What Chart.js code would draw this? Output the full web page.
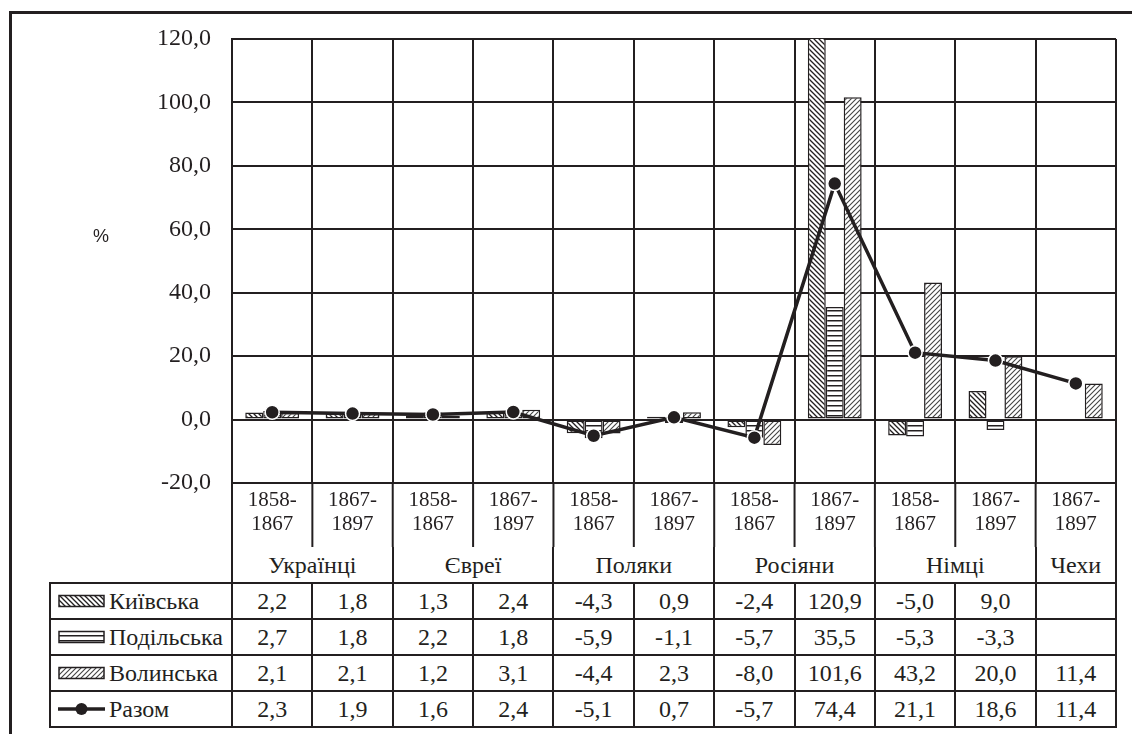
<!DOCTYPE html>
<html>
<head>
<meta charset="utf-8">
<script src="https://cdn.jsdelivr.net/npm/chart.js@4.4.1/dist/chart.umd.min.js"></script>
<style>
  html, body { margin: 0; padding: 0; background: #fff; }
  #wrap { position: relative; width: 1132px; height: 734px; overflow: hidden;
          font-family: "Liberation Serif", "Times New Roman", Times, "DejaVu Serif", serif; color: #231f20; }
  #chart { position: absolute; left: 0; top: 0; }
  #frame { position: absolute; left: 9px; top: 11px; right: 0; bottom: 0;
           border-left: 3px solid #231f20; border-top: 3px solid #231f20; }
  #pct { position: absolute; left: 93px; top: 226px; font: 18px "Liberation Sans", Arial, sans-serif; }
  .cell { position: absolute; box-sizing: border-box; border: 2px solid #231f20; background: #fff;
          display: flex; align-items: center; justify-content: center; font-size: 24px; line-height: 1; }
  .cell.legend { justify-content: flex-start; padding-left: 7px; }
  .cell.legend canvas { margin-right: 4px; }
</style>
</head>
<body>
<div id="wrap">
  <canvas id="chart" width="1132" height="734"></canvas>
  <div id="frame"></div>
  <div id="pct">%</div>
  <div id="table"></div>
</div>
<script>
// ---- data ----
const periods = ['1858-1867', '1867-1897', '1858-1867', '1867-1897', '1858-1867', '1867-1897',
                 '1858-1867', '1867-1897', '1858-1867', '1867-1897', '1867-1897'];
const groups = ['Українці', 'Євреї', 'Поляки', 'Росіяни', 'Німці', 'Чехи'];
const groupSizes = [2, 2, 2, 2, 2, 1];

const kyiv     = [2.2, 1.8, 1.3, 2.4, -4.3, 0.9, -2.4, 120.9, -5.0, 9.0, null];
const podillia = [2.7, 1.8, 2.2, 1.8, -5.9, -1.1, -5.7, 35.5, -5.3, -3.3, null];
const volyn    = [2.1, 2.1, 1.2, 3.1, -4.4, 2.3, -8.0, 101.6, 43.2, 20.0, 11.4];
const total    = [2.3, 1.9, 1.6, 2.4, -5.1, 0.7, -5.7, 74.4, 21.1, 18.6, 11.4];

const seriesNames = ['Київська', 'Подільська', 'Волинська', 'Разом'];
const yTicks = [-20, 0, 20, 40, 60, 80, 100, 120];

const ink = '#231f20';
const serif = '"Liberation Serif", "Times New Roman", Times, "DejaVu Serif", serif';
const fmt = v => v == null ? '' : v.toFixed(1).replace('.', ',');

// hatch fills like the old Excel patterns
function makePattern(kind) {
  const s = 5;
  const t = document.createElement('canvas');
  t.width = s; t.height = s;
  const g = t.getContext('2d');
  g.fillStyle = '#fff';
  g.fillRect(0, 0, s, s);
  if (kind === 'horiz') {
    g.fillStyle = ink;
    g.fillRect(0, 0, s, 1.5);
  } else {
    g.strokeStyle = kind === 'back' ? ink : '#444';
    g.lineWidth = kind === 'back' ? 1.3 : 1.1;
    g.beginPath();
    if (kind === 'back') {
      g.moveTo(-1, -1); g.lineTo(s + 1, s + 1);
      g.moveTo(-1, s - 1); g.lineTo(1, s + 1);
      g.moveTo(s - 1, -1); g.lineTo(s + 1, 1);
    } else {
      g.moveTo(-1, s + 1); g.lineTo(s + 1, -1);
      g.moveTo(-1, 1); g.lineTo(1, -1);
      g.moveTo(s - 1, s + 1); g.lineTo(s + 1, s - 1);
    }
    g.stroke();
  }
  return g.createPattern(t, 'repeat');
}
const fills = [makePattern('back'), makePattern('horiz'), makePattern('fwd')];

// separators under the plot for the period labels
const lowerLines = {
  id: 'lowerLines',
  afterDraw(c) {
    const x = c.scales.x, a = c.chartArea, ctx = c.ctx;
    const step = x.getPixelForValue(1) - x.getPixelForValue(0);
    ctx.save();
    ctx.strokeStyle = ink;
    ctx.lineWidth = 2;
    for (let k = 0; k <= periods.length; k++) {
      const px = x.getPixelForValue(0) - step / 2 + k * step;
      ctx.beginPath();
      ctx.moveTo(px, a.bottom);
      ctx.lineTo(px, a.bottom + 64);
      ctx.stroke();
    }
    ctx.restore();
  }
};

const barStyle = { borderColor: ink, borderWidth: 1.5, borderSkipped: false, order: 1 };

const chart = new Chart(document.getElementById('chart'), {
  type: 'bar',
  data: {
    labels: periods.map(p => [p.slice(0, 5), p.slice(5)]),
    datasets: [
      { label: seriesNames[0], data: kyiv, backgroundColor: fills[0], ...barStyle },
      { label: seriesNames[1], data: podillia, backgroundColor: fills[1], ...barStyle },
      { label: seriesNames[2], data: volyn, backgroundColor: fills[2], ...barStyle },
      {
        type: 'line', label: seriesNames[3], data: total, order: 0,
        borderColor: ink, borderWidth: 3.5,
        pointRadius: 7, pointBackgroundColor: ink, pointBorderColor: '#fff', pointBorderWidth: 1.5
      }
    ]
  },
  options: {
    responsive: false,
    animation: false,
    devicePixelRatio: 1,
    layout: { padding: { top: 39, right: 16, left: 0, bottom: 0 } },
    datasets: { bar: { barPercentage: 1, categoryPercentage: 0.67 } },
    plugins: { legend: { display: false }, tooltip: { enabled: false } },
    scales: {
      x: {
        grid: { color: ink, lineWidth: 2, drawTicks: false, offset: true },
        border: { color: ink, width: 2 },
        ticks: { color: ink, font: { family: serif, size: 21, lineHeight: 1.15 }, padding: 5,
                 maxRotation: 0, autoSkip: false },
        afterFit: s => { s.height = 251; }
      },
      y: {
        min: yTicks[0], max: yTicks[yTicks.length - 1],
        grid: { color: ink, lineWidth: 2, drawTicks: false },
        border: { color: ink, width: 2 },
        ticks: { stepSize: 20, color: ink, font: { family: serif, size: 24 }, padding: 21,
                 callback: v => fmt(v) },
        afterFit: s => { s.width = 232; }
      }
    }
  },
  plugins: [lowerLines]
});

// ---- data table under the chart, lined up with the x scale ----
const table = document.getElementById('table');
const xs = chart.scales.x;
const area = chart.chartArea;
const step = xs.getPixelForValue(1) - xs.getPixelForValue(0);
const edge = k => xs.getPixelForValue(0) - step / 2 + k * step;

function cell(x0, x1, y0, y1, content, opts = {}) {
  const d = document.createElement('div');
  d.className = 'cell' + (opts.legend ? ' legend' : '');
  const top = opts.noTop ? y0 : y0 - 1;
  d.style.left = (x0 - 1) + 'px';
  d.style.top = top + 'px';
  d.style.width = (x1 - x0 + 2) + 'px';
  d.style.height = (y1 + 1 - top) + 'px';
  if (opts.noTop) d.style.borderTop = 'none';
  if (typeof content === 'string') d.textContent = content;
  else content.forEach(n => d.appendChild(n));
  table.appendChild(d);
}

const groupTop = area.bottom + 64;
const rowTop = 583, rowH = 36, tableLeft = 50;

let col = 0;
groups.forEach((g, i) => {
  cell(edge(col), edge(col + groupSizes[i]), groupTop, rowTop, g, { noTop: true });
  col += groupSizes[i];
});

function legendSymbol(i) {
  const c = document.createElement('canvas');
  c.width = 47; c.height = 14;
  const g = c.getContext('2d');
  if (i < 3) {
    g.fillStyle = fills[i];
    g.fillRect(1, 1.5, 45, 11);
    g.strokeStyle = ink;
    g.lineWidth = 1.5;
    g.strokeRect(1, 1.5, 45, 11);
  } else {
    g.strokeStyle = ink;
    g.lineWidth = 3.5;
    g.beginPath(); g.moveTo(0, 7); g.lineTo(47, 7); g.stroke();
    g.fillStyle = ink;
    g.beginPath(); g.arc(23.5, 7, 6, 0, Math.PI * 2); g.fill();
  }
  return c;
}

[kyiv, podillia, volyn, total].forEach((series, r) => {
  const y0 = rowTop + r * rowH, y1 = y0 + rowH;
  const name = document.createElement('span');
  name.textContent = seriesNames[r];
  cell(tableLeft, area.left, y0, y1, [legendSymbol(r), name], { legend: true });
  series.forEach((v, k) => cell(edge(k), edge(k + 1), y0, y1, fmt(v)));
});
</script>
</body>
</html>
